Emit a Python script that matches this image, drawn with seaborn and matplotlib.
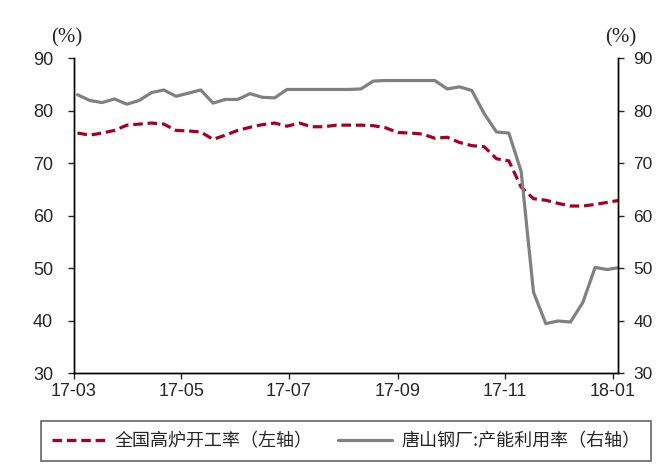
import pandas as pd
import numpy as np
import matplotlib
matplotlib.use("Agg")
import matplotlib.pyplot as plt
import matplotlib.dates as mdates
import seaborn as sns

# 周度数据 (2017-03-03 起, 每周五)
dates = pd.date_range("2017-03-03", periods=45, freq="7D")

# 全国高炉开工率 (左轴, %)
blast_rate = [75.8, 75.4, 75.8, 76.3, 77.3, 77.5, 77.7, 77.5, 76.3, 76.2,
              76.0, 74.6, 75.4, 76.3, 76.9, 77.4, 77.7, 77.1, 77.7, 77.0,
              77.0, 77.3, 77.3, 77.3, 77.2, 76.8, 75.9, 75.8, 75.6, 74.8,
              75.0, 74.0, 73.4, 73.2, 70.9, 70.5, 65.5, 63.3, 63.0, 62.4,
              61.9, 61.9, 62.2, 62.6, 63.0]

# 唐山钢厂:产能利用率 (右轴, %)
tangshan_rate = [83.1, 82.0, 81.6, 82.3, 81.3, 82.0, 83.5, 84.0, 82.8, 83.4,
                 84.0, 81.5, 82.2, 82.2, 83.3, 82.6, 82.5, 84.1, 84.1, 84.1,
                 84.1, 84.1, 84.1, 84.2, 85.7, 85.8, 85.8, 85.8, 85.8, 85.8,
                 84.2, 84.6, 83.9, 79.5, 76.0, 75.8, 68.5, 45.5, 39.5, 40.0,
                 39.8, 43.5, 50.2, 49.8, 50.2]

label_left = "全国高炉开工率（左轴）"
label_right = "唐山钢厂:产能利用率（右轴）"
tick_dates = ["2017-03-01", "2017-05-01", "2017-07-01", "2017-09-01",
              "2017-11-01", "2018-01-01"]

df = pd.DataFrame({"date": dates, "blast": blast_rate, "tangshan": tangshan_rate})

sns.set_style("white")
plt.rcParams["font.family"] = ["Liberation Sans", "DejaVu Sans"]

RED = "#A50021"
GRAY = "#808080"

fig = plt.figure(figsize=(6.57, 4.66), dpi=100)
ax = fig.add_axes([0.1126, 0.1985, 0.8280, 0.6760])
ax2 = ax.twinx()

sns.lineplot(data=df, x="date", y="blast", ax=ax, color=RED, lw=2.3,
             label=label_left, legend=False)
ax.lines[0].set_dashes([3.0, 1.5])
sns.lineplot(data=df, x="date", y="tangshan", ax=ax2, color=GRAY, lw=2.3,
             label=label_right, legend=False)

for a in (ax, ax2):
    a.set_ylim(30, 90)
    a.set_yticks(range(30, 91, 10))
    a.set_xlabel("")
    a.set_ylabel("")
    a.spines["top"].set_visible(False)
    for s in a.spines.values():
        s.set_color("black")
        s.set_linewidth(1.0)

ax.set_xlim(pd.Timestamp("2017-03-01"), pd.Timestamp("2018-01-04"))
ax.set_xticks(pd.to_datetime(tick_dates))
ax.xaxis.set_major_formatter(mdates.DateFormatter("%y-%m"))

ax.tick_params(axis="y", direction="out", length=4, width=1, pad=11,
               labelsize=13, left=True)
ax.tick_params(axis="x", direction="out", length=4, width=1, pad=3,
               labelsize=13, bottom=True)
ax2.tick_params(axis="y", direction="out", length=4, width=1, pad=7,
                labelsize=12.5, right=True)

fig.text(67 / 657, 1 - 38 / 466, "(%)", fontsize=15, family="Liberation Serif",
         ha="center", va="center")
fig.text(621 / 657, 1 - 38 / 466, "(%)", fontsize=15, family="Liberation Serif",
         ha="center", va="center")

handles = ax.get_lines()[:1] + ax2.get_lines()[:1]
leg = fig.legend(handles, [label_left, label_right], ncol=2,
                 loc="lower left", bbox_to_anchor=(41 / 657, 5 / 466),
                 prop={"family": ["Noto Sans CJK SC", "DejaVu Sans"], "size": 13},
                 frameon=True, fancybox=False, handlelength=3.0,
                 handletextpad=0.5, columnspacing=1.4, borderpad=0.6,
                 borderaxespad=0)
leg.get_frame().set_edgecolor("#404040")
leg.get_frame().set_linewidth(1.2)

fig.savefig("out.png", dpi=100)
